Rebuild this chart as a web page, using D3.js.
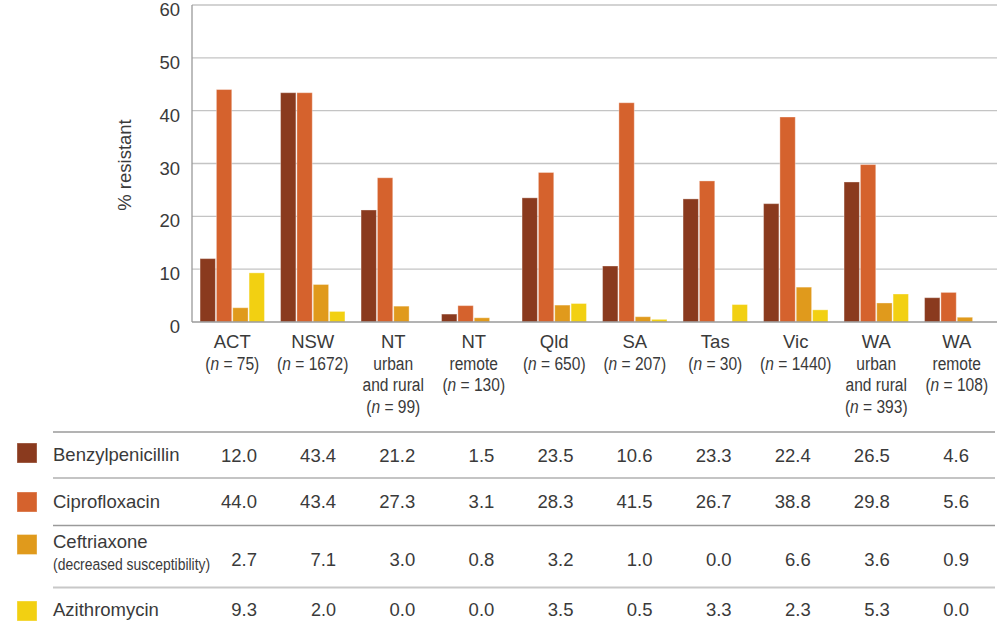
<!DOCTYPE html>
<html>
<head>
<meta charset="utf-8">
<script src="https://cdn.jsdelivr.net/npm/d3@7"></script>
<style>
  html, body { margin: 0; padding: 0; background: #fff; }
  svg { display: block; }
  text { fill: #3a3a3a; font-family: "Liberation Sans", Arial, sans-serif; }
</style>
</head>
<body>
<svg id="chart" width="1004" height="644"></svg>
<script>
// ---- data ----
const categories = ["ACT", "NSW", "NT urban and rural", "NT remote", "Qld", "SA", "Tas", "Vic", "WA urban and rural", "WA remote"];
const catTitle = ["ACT", "NSW", "NT", "NT", "Qld", "SA", "Tas", "Vic", "WA", "WA"];
const catSub = [[], [], ["urban", "and rural"], ["remote"], [], [], [], [], ["urban", "and rural"], ["remote"]];
const sampleN = [75, 1672, 99, 130, 650, 207, 30, 1440, 393, 108];

const seriesNames = ["Benzylpenicillin", "Ciprofloxacin", "Ceftriaxone", "Azithromycin"];
const seriesSub = ["", "", "(decreased susceptibility)", ""];
const benzylpenicillin = [12.0, 43.4, 21.2, 1.5, 23.5, 10.6, 23.3, 22.4, 26.5, 4.6];
const ciprofloxacin   = [44.0, 43.4, 27.3, 3.1, 28.3, 41.5, 26.7, 38.8, 29.8, 5.6];
const ceftriaxone     = [2.7, 7.1, 3.0, 0.8, 3.2, 1.0, 0.0, 6.6, 3.6, 0.9];
const azithromycin    = [9.3, 2.0, 0.0, 0.0, 3.5, 0.5, 3.3, 2.3, 5.3, 0.0];
const seriesValues = [benzylpenicillin, ciprofloxacin, ceftriaxone, azithromycin];
const yTicks = [0, 10, 20, 30, 40, 50, 60];
const yLabel = "% resistant";

// ---- styles ----
const colors = ["#8a3a1e", "#d5622d", "#e09a1c", "#f2d012"];
const NARROW = 0.82;

const svg = d3.select("#chart");

// condensed text helper (no narrow font installed: scale horizontally)
function narrowText(parent, px, py, anchor, size) {
  return parent.append("text")
    .attr("transform", `translate(${px},${py}) scale(${NARROW},1)`)
    .attr("text-anchor", anchor).attr("font-size", size);
}

const x = d3.scaleBand().domain(categories).range([192, 997]).paddingInner(0.2).paddingOuter(0.1);
const xs = d3.scaleBand().domain(seriesNames).range([0, x.bandwidth()]).paddingInner(0.06);
const y = d3.scaleLinear().domain([0, 60]).range([322, 5]);

// gridlines
svg.append("g").selectAll("line").data(yTicks.filter(t => t > 0)).join("line")
  .attr("x1", 192).attr("x2", 997)
  .attr("y1", d => y(d)).attr("y2", d => y(d))
  .attr("stroke", "#c4c4c4").attr("stroke-width", 1.3);

// y tick labels
svg.append("g").selectAll("text").data(yTicks).join("text")
  .attr("x", 180).attr("y", d => y(d) + 11)
  .attr("text-anchor", "end").attr("font-size", 18.5)
  .text(d => d);

// y label
svg.append("text")
  .attr("transform", "translate(131,165) rotate(-90)")
  .attr("text-anchor", "middle").attr("font-size", 18.5)
  .text(yLabel);

// bars
const groups = svg.append("g").selectAll("g").data(categories).join("g")
  .attr("transform", d => `translate(${x(d)},0)`);
groups.selectAll("rect").data((c, i) => seriesNames.map((s, k) => ({ s, k, v: seriesValues[k][i] })))
  .join("rect")
  .attr("x", d => xs(d.s))
  .attr("width", xs.bandwidth())
  .attr("y", d => y(d.v))
  .attr("height", d => y(0) - y(d.v))
  .attr("fill", d => colors[d.k])
  .attr("stroke", "rgba(255,255,255,0.35)")
  .attr("stroke-width", 1);

// axes lines
svg.append("line").attr("x1", 192).attr("x2", 192).attr("y1", y(60)).attr("y2", y(0))
  .attr("stroke", "#9a9a9a").attr("stroke-width", 1.3);
svg.append("line").attr("x1", 192).attr("x2", 997).attr("y1", y(0)).attr("y2", y(0))
  .attr("stroke", "#9a9a9a").attr("stroke-width", 1.5);

// category labels
const lineH = 21.5;
categories.forEach((c, i) => {
  const cx = x(c) + x.bandwidth() / 2;
  svg.append("text").attr("text-anchor", "middle").attr("font-size", 18.5)
    .attr("x", cx).attr("y", 348).text(catTitle[i]);
  let row = 1;
  catSub[i].forEach(s => {
    narrowText(svg, cx, 348 + lineH * row, "middle", 19).text(s);
    row++;
  });
  const nt = narrowText(svg, cx, 348 + lineH * row, "middle", 19);
  nt.append("tspan").text("(");
  nt.append("tspan").attr("font-style", "italic").text("n");
  nt.append("tspan").text(" = " + sampleN[i] + ")");
});

// table
const col = d3.scalePoint().domain(categories).range([257, 969]);
const rowLines = [432, 478, 525.5, 587.5];
const rowLineColors = ["#9a9a9a", "#b0b0b0", "#9a9a9a", "#c8c8c8"];
rowLines.forEach((ly, k) => {
  svg.append("line").attr("x1", 53).attr("x2", 995).attr("y1", ly).attr("y2", ly)
    .attr("stroke", rowLineColors[k]).attr("stroke-width", k === 3 ? 2 : 1.5);
});
const swatchY = [443, 492, 534.5, 601];
const nameY = [461, 507.5, 548, 616];
const valueY = [461.5, 508, 566, 616];
seriesNames.forEach((s, k) => {
  svg.append("rect").attr("x", 17).attr("y", swatchY[k]).attr("width", 20).attr("height", 20)
    .attr("fill", colors[k]).attr("stroke", "rgba(255,255,255,0.35)");
  svg.append("text").attr("x", 53).attr("y", nameY[k]).attr("font-size", 18.5).text(s);
  if (seriesSub[k]) {
    narrowText(svg, 53, 570, "start", 17).text(seriesSub[k]);
  }
  svg.append("g").selectAll("text").data(categories).join("text")
    .attr("x", c => col(c)).attr("y", valueY[k])
    .attr("text-anchor", "end").attr("font-size", 18.5)
    .each(function (c, i) {
      const v = seriesValues[k][i];
      const el = d3.select(this).text(v.toFixed(1));
      if (k === 3 && i === 1) el.attr("font-family", "'Liberation Serif', serif").attr("font-size", 18);
    });
});
</script>
</body>
</html>
